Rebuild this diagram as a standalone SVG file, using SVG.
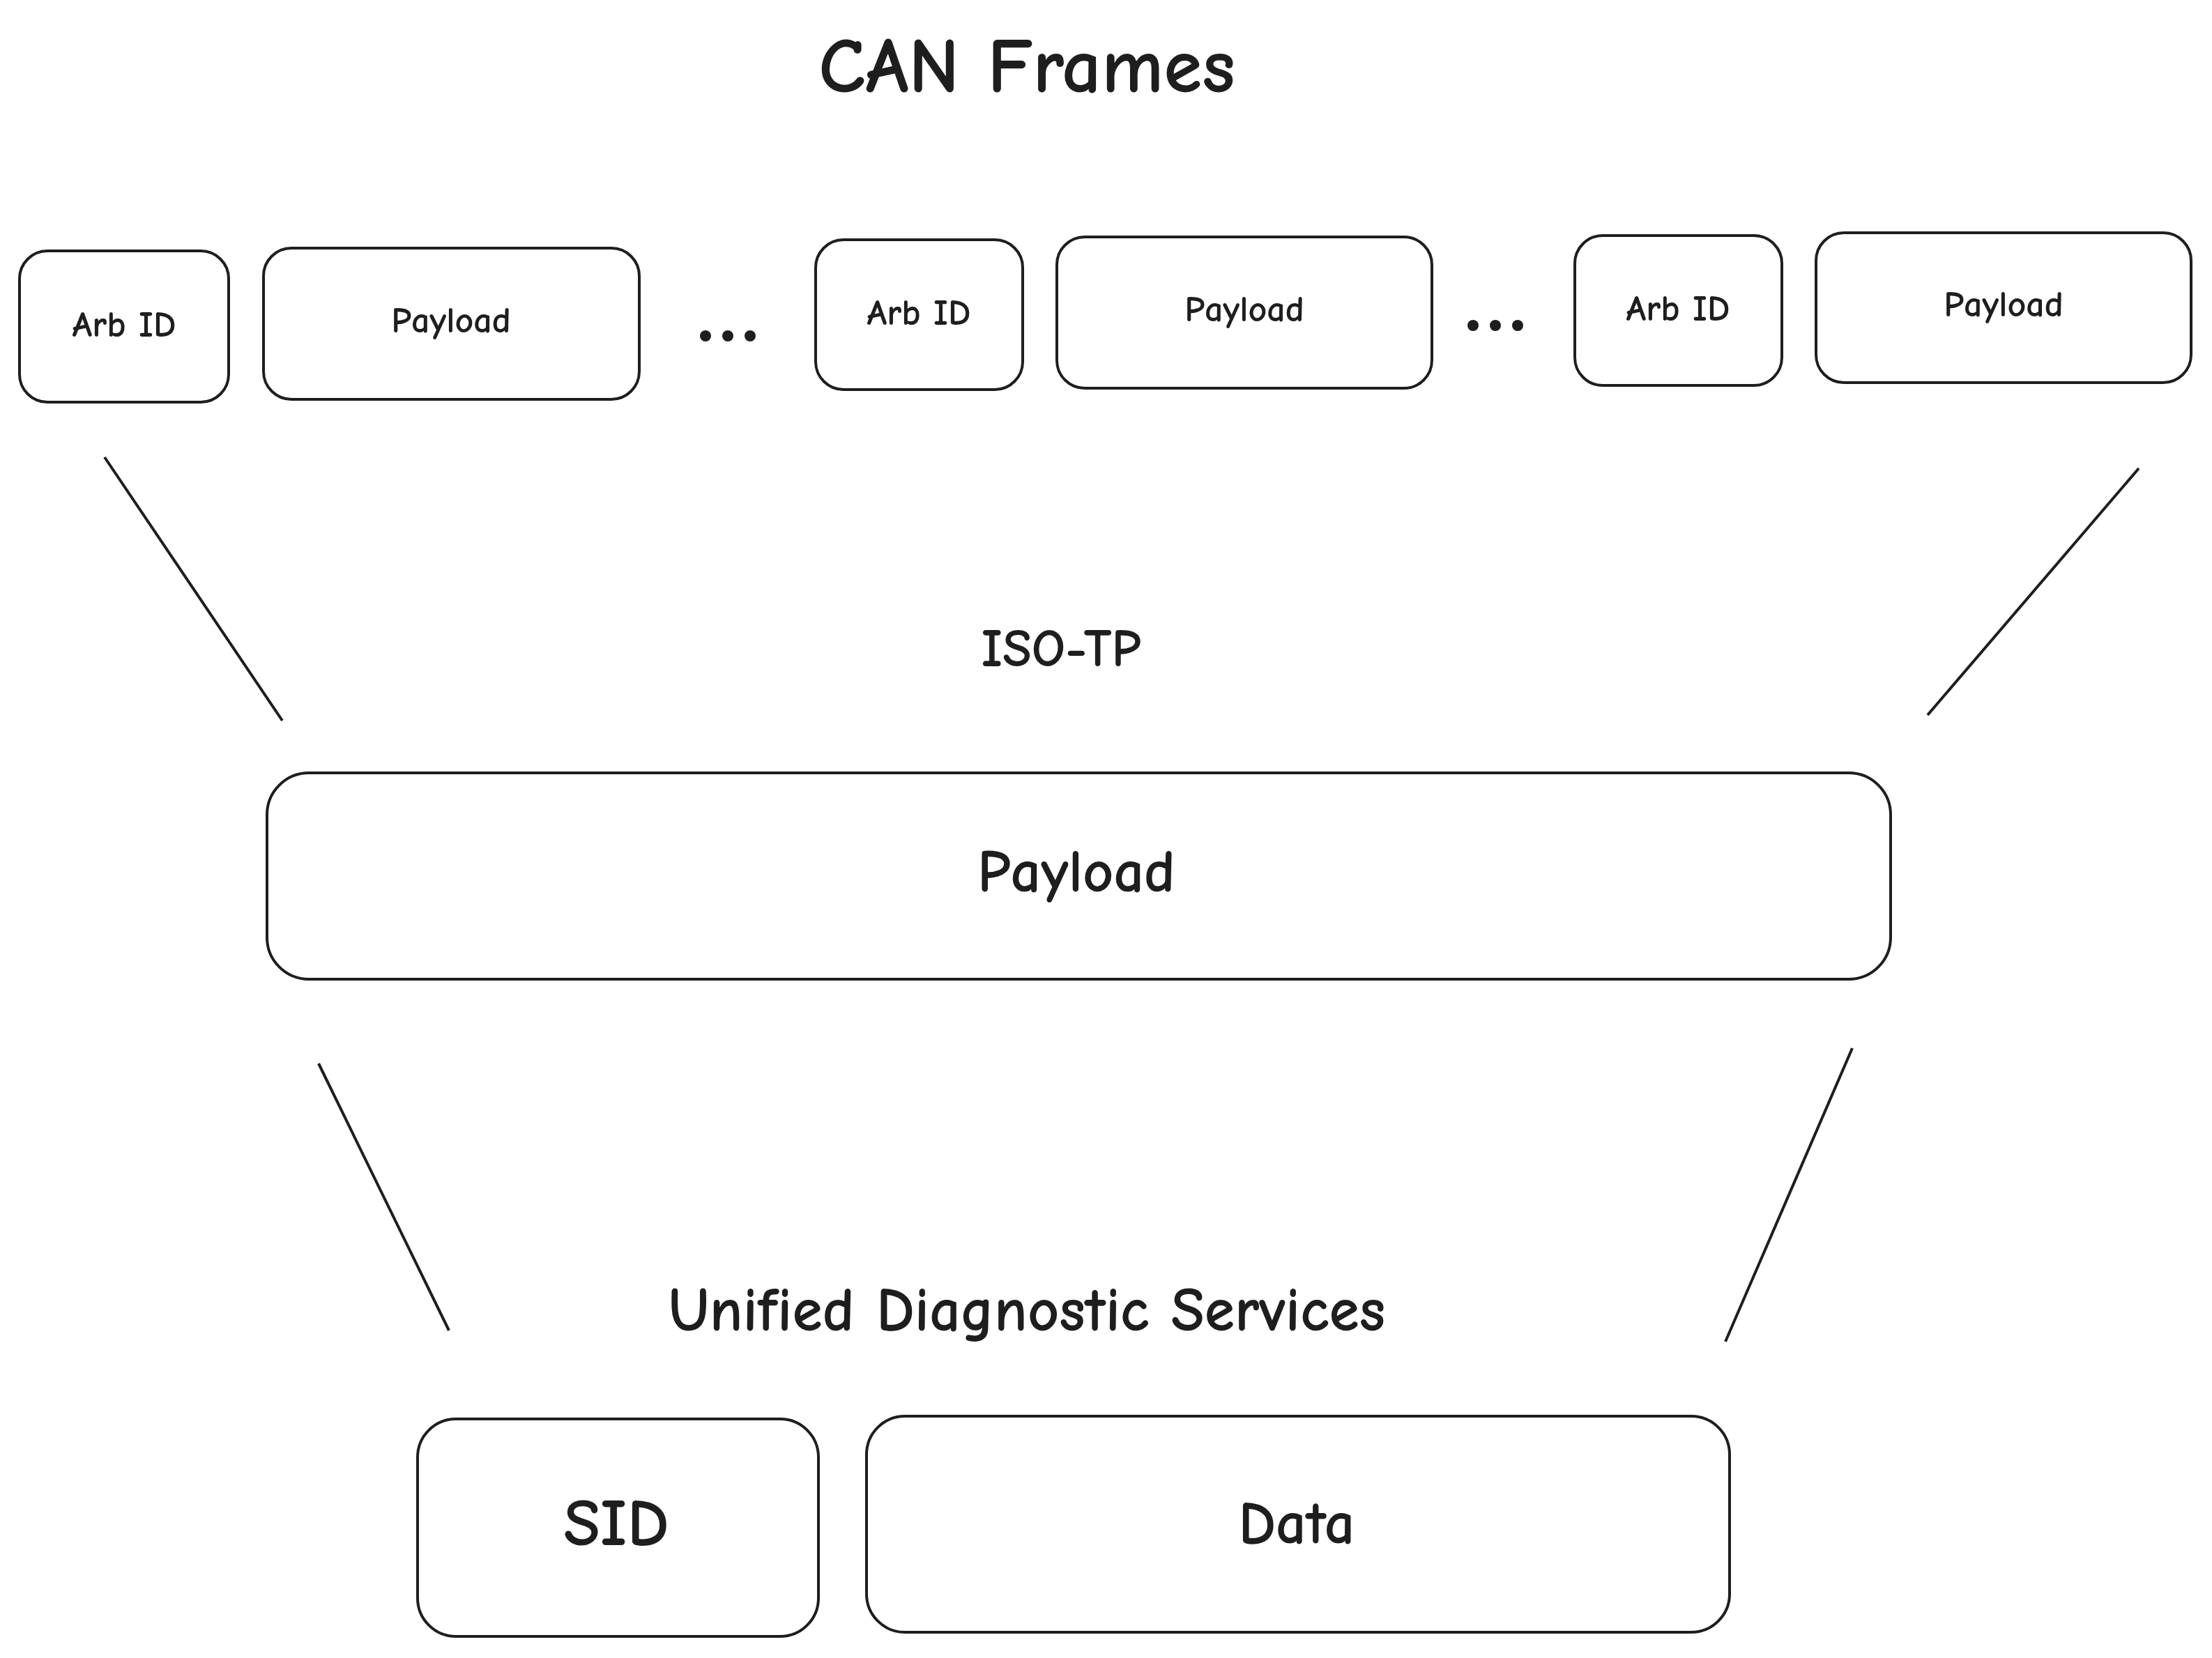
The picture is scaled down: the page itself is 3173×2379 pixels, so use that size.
<svg xmlns="http://www.w3.org/2000/svg" width="3173" height="2379" viewBox="0 0 3173 2379">
<style>
.b{fill:#fff;stroke:#1e1e1e;stroke-width:4}
.l{stroke:#1e1e1e;stroke-width:4;fill:none}
.d{fill:#1e1e1e}
text{font-family:"Comic Neue","Liberation Sans",sans-serif;fill:#1e1e1e;text-anchor:middle;dominant-baseline:central;font-weight:bold}
.s{font-size:52px}
</style>
<rect width="3173" height="2379" fill="#fff"/>
<text x="1473" y="95" font-size="112">CAN Frames</text>
<g id="arb1"><rect class="b" x="28" y="360" width="300" height="217" rx="40"/><text class="s" x="178" y="466">Arb ID</text></g>
<g id="pay1"><rect class="b" x="378" y="356" width="539" height="217" rx="40"/><text class="s" x="647" y="460">Payload</text></g>
<g id="dots1"><circle class="d" cx="1012" cy="482" r="8"/><circle class="d" cx="1044" cy="482" r="8"/><circle class="d" cx="1076" cy="482" r="8"/></g>
<g id="arb2"><rect class="b" x="1170" y="344" width="297" height="215" rx="40"/><text class="s" x="1318" y="449">Arb ID</text></g>
<g id="pay2"><rect class="b" x="1516" y="340" width="538" height="217" rx="40"/><text class="s" x="1785" y="444">Payload</text></g>
<g id="dots2"><circle class="d" cx="2113" cy="467" r="8"/><circle class="d" cx="2145" cy="467" r="8"/><circle class="d" cx="2177" cy="467" r="8"/></g>
<g id="arb3"><rect class="b" x="2259" y="338" width="297" height="215" rx="40"/><text class="s" x="2407" y="443">Arb ID</text></g>
<g id="pay3"><rect class="b" x="2605" y="334" width="538" height="215" rx="40"/><text class="s" x="2874" y="437">Payload</text></g>
<text x="1522" y="931" font-size="76">ISO-TP</text>
<g id="isopay"><rect class="b" x="383" y="1109" width="2329" height="296" rx="60"/><text x="1544" y="1251" font-size="86">Payload</text></g>
<text x="1473" y="1880" font-size="88">Unified Diagnostic Services</text>
<g id="sid"><rect class="b" x="599" y="2036" width="575" height="312" rx="55"/><text x="884" y="2186" font-size="96">SID</text></g>
<g id="data"><rect class="b" x="1243" y="2032" width="1238" height="310" rx="55"/><text x="1860" y="2186" font-size="86">Data</text></g>
<g id="connectors">
<line class="l" x1="150" y1="656" x2="405" y2="1034"/>
<line class="l" x1="3068" y1="672" x2="2765" y2="1026"/>
<line class="l" x1="457" y1="1526" x2="644" y2="1909"/>
<line class="l" x1="2657" y1="1504" x2="2475" y2="1925"/>
</g>
</svg>
